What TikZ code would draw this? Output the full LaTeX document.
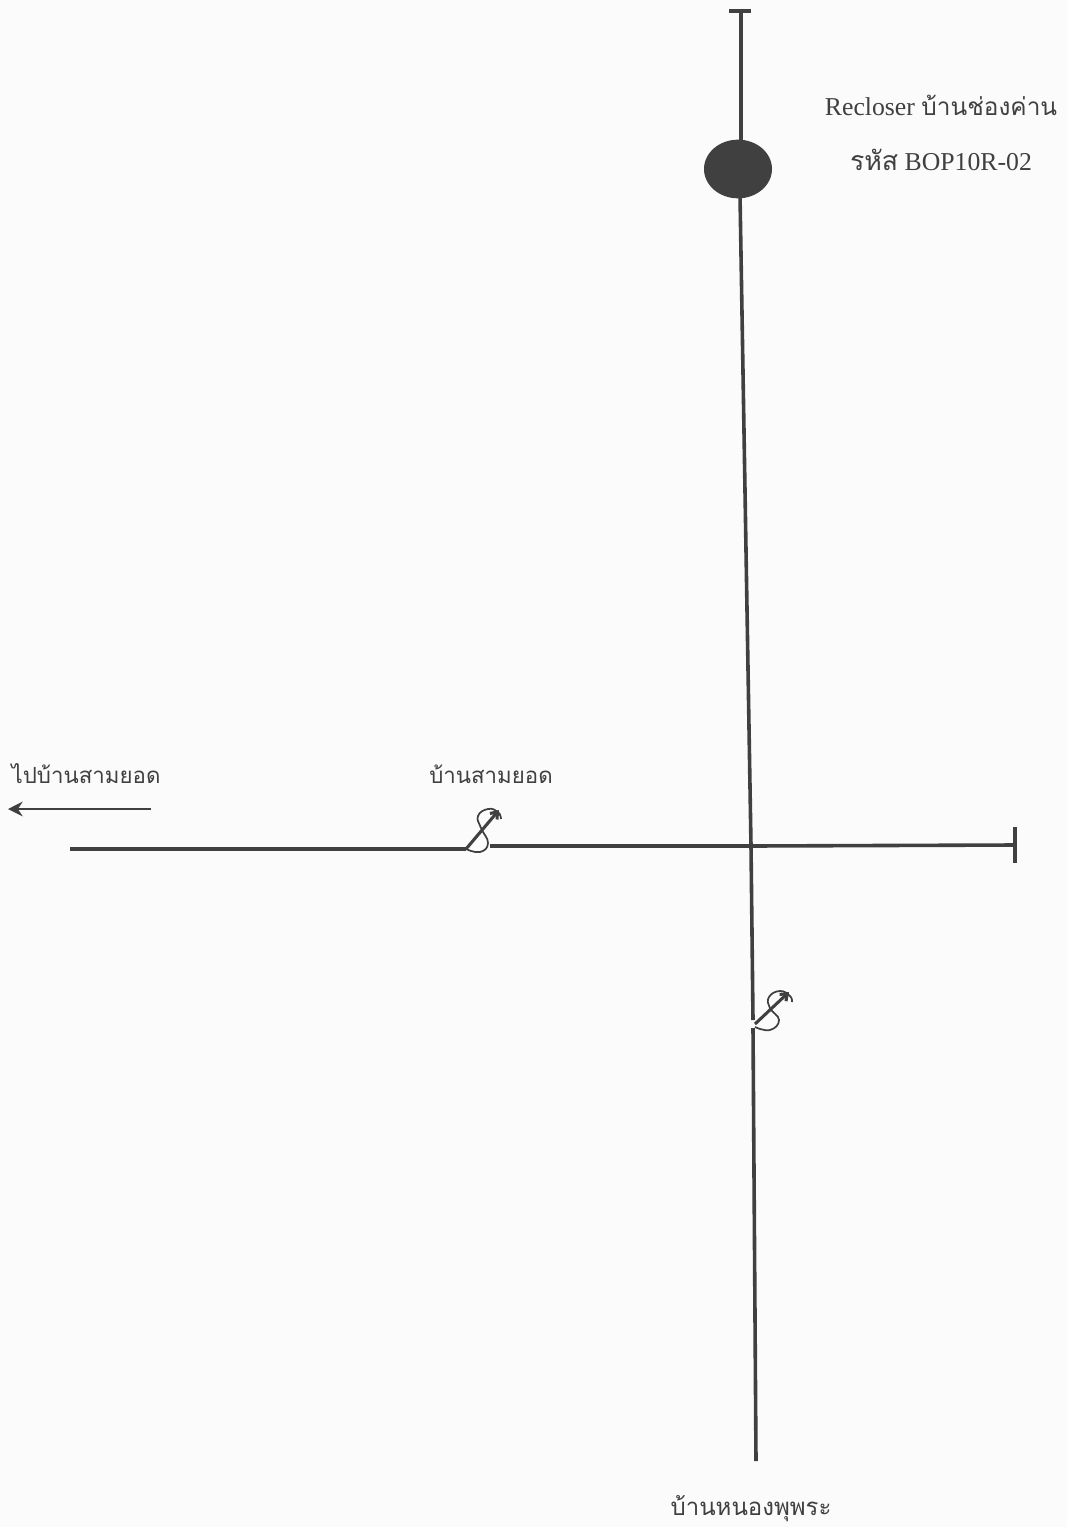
\documentclass[tikz,border=0pt]{standalone}
\usepackage{fontspec}
\setmainfont{Liberation Serif}
\newfontfamily\thaifont[Script=Thai]{Loma}
\usetikzlibrary{arrows.meta,shapes.geometric}
\definecolor{ink}{gray}{0.25}
\definecolor{paper}{gray}{0.985}
\definecolor{txt}{gray}{0.25}
\tikzset{
  wire/.style={draw=ink,line width=2.7pt},
  lbl/.style={text=txt,font=\fontsize{19.3}{22}\selectfont,inner sep=0pt,anchor=center},
  th/.style={text=txt,font=\thaifont\fontsize{16.7}{20}\selectfont,inner sep=0pt,anchor=center},
  recloser/.style={ellipse,draw=none,fill=ink,minimum width=51pt,minimum height=44pt,inner sep=0pt},
  switcharm/.style={draw=ink,line width=2.3pt,-{Straight Barb[length=4.5pt,width=7pt]}},
  switchloop/.style={draw=ink,line width=1.3pt}
}
\begin{document}
\begin{tikzpicture}[x=0.75pt,y=-0.75pt]
\useasboundingbox[fill=paper] (0,0) rectangle (1067,1527);
% points
\coordinate (topA) at (729,11);
\coordinate (topB) at (751,11);
\coordinate (top) at (741,11);
\coordinate (recUp) at (741,145);
\coordinate (recDown) at (740,195);
\coordinate (junc) at (751,846);
\coordinate (west) at (70,849);
\coordinate (east) at (1015,845);
\coordinate (eastA) at (1015,827);
\coordinate (eastB) at (1015,863);
\coordinate (bottom) at (756,1461);
\coordinate (s1a) at (466,849);
\coordinate (s1b) at (490,846);
\coordinate (s1tip) at (499,810);
\coordinate (s2a) at (753,1020);
\coordinate (s2b) at (753,1028);
\coordinate (s2c) at (755,1024);
\coordinate (s2tip) at (789,992);
\coordinate (arrS) at (151,809);
\coordinate (arrE) at (8,809);
\node[recloser] (rec) at (738,169) {};
\node[text=black!75,font=\fontsize{9}{10}\selectfont,inner sep=0pt] (recR) at (738,169) {R};
% wires
\draw[wire] (topA) -- (topB);
\draw[wire] (top) -- (recUp);
\draw[wire] (recDown) -- (junc);
\draw[wire] (junc) -- (s2a);
\draw[wire] (s2b) -- (bottom);
\draw[wire] (west) -- (s1a);
\draw[wire] (s1b) -- (junc);
\draw[wire] (junc) -- (east);
\draw[wire] (eastA) -- (eastB);
% switches
\draw[switcharm] (s1a) -- (s1tip);
\draw[switchloop] plot[smooth,tension=0.8] coordinates {(466,849) (480,852) (488,843) (481,828) (478,816) (488,809) (498,812) (501,819)};
\draw[switcharm] (s2c) -- (s2tip);
\draw[switchloop] plot[smooth,tension=0.8] coordinates {(755,1027) (770,1030) (779,1020) (770,1008) (769,997) (780,991) (790,996) (792,1002)};
% arrow
\draw[draw=ink,line width=1.5pt,-{Stealth[length=11pt,width=11pt]}] (arrS) -- (arrE);
% labels
\node[lbl] (t1) at (941,105) {Recloser {\thaifont\fontsize{18.3}{20}\selectfont บ้านช่องค่าน}};
\node[lbl] (t2) at (941,160) {{\thaifont\fontsize{20}{20}\selectfont รหัส} BOP10R-02};
\node[th] (t3) at (86,774) {ไปบ้านสามยอด};
\node[th] (t4) at (491,774) {บ้านสามยอด};
\node[th,font=\thaifont\fontsize{18}{20}\selectfont] (t5) at (751,1509) {บ้านหนองพุพระ};
\end{tikzpicture}
\end{document}
